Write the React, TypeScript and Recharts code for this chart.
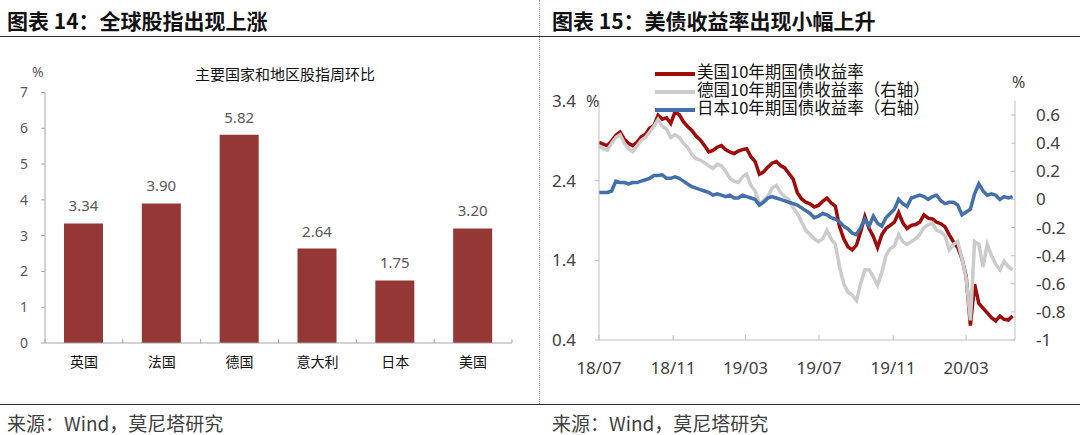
import React from 'react';
import { BarChart, Bar, XAxis, YAxis, LabelList, LineChart, Line } from 'recharts';

// ---------- Left chart data ----------
const countries = ['英国', '法国', '德国', '意大利', '日本', '美国'];
const weeklyChange = [3.34, 3.90, 5.82, 2.64, 1.75, 3.20];
const barTicks = [0, 1, 2, 3, 4, 5, 6, 7];

// ---------- Right chart data (weekly samples from 2018-07-01) ----------
const startDate = '2018-07-01';
const endDate = '2020-05-21';
const stepDays = 7;
const xTickDates = ['2018-07-01', '2018-11-01', '2019-03-01', '2019-07-01', '2019-11-01', '2020-03-01'];
const xTickLabels = ['18/07', '18/11', '19/03', '19/07', '19/11', '20/03'];
const leftTicks = [0.4, 1.4, 2.4, 3.4];
const rightTicks = [-1, -0.8, -0.6, -0.4, -0.2, 0, 0.2, 0.4, 0.6];

const usYield = [
  2.88, 2.86, 2.84, 2.90, 2.97, 3.01, 2.92, 2.87, 2.84, 2.88,
  2.95, 2.98, 3.06, 3.09, 3.22, 3.17, 3.19, 3.12, 3.26, 3.23,
  3.14, 3.08, 3.03, 2.96, 2.91, 2.84, 2.76, 2.78, 2.82, 2.84,
  2.79, 2.76, 2.74, 2.77, 2.79, 2.80, 2.70, 2.64, 2.48, 2.51,
  2.57, 2.62, 2.64, 2.59, 2.56, 2.49, 2.42, 2.25, 2.17, 2.13,
  2.11, 2.07, 2.09, 2.14, 2.18, 2.12, 2.08, 1.82, 1.67, 1.57,
  1.53, 1.59, 1.76, 1.95, 1.80, 1.70, 1.56, 1.72, 1.80, 1.84,
  1.88, 2.00, 1.87, 1.80, 1.84, 1.85, 1.88, 1.97, 1.93, 1.92,
  1.88, 1.86, 1.82, 1.72, 1.63, 1.56, 1.42, 1.20, 0.58, 1.10,
  0.86, 0.80, 0.74, 0.68, 0.64, 0.70, 0.66, 0.65, 0.70,
];
const deYield = [
  0.38, 0.36, 0.35, 0.40, 0.44, 0.46, 0.40, 0.36, 0.34, 0.38,
  0.42, 0.44, 0.48, 0.52, 0.57, 0.52, 0.50, 0.44, 0.46, 0.44,
  0.40, 0.37, 0.32, 0.29, 0.28, 0.26, 0.24, 0.22, 0.25, 0.24,
  0.20, 0.15, 0.13, 0.12, 0.16, 0.18, 0.10, 0.06, -0.03, -0.01,
  0.02, 0.08, 0.10, 0.05, 0.02, 0.00, -0.06, -0.10, -0.16, -0.22,
  -0.25, -0.28, -0.30, -0.28, -0.22, -0.28, -0.32, -0.48, -0.60, -0.66,
  -0.68, -0.72, -0.60, -0.50, -0.50, -0.55, -0.61, -0.52, -0.40, -0.35,
  -0.33, -0.25, -0.30, -0.32, -0.30, -0.28, -0.25, -0.20, -0.18, -0.17,
  -0.22, -0.23, -0.26, -0.36, -0.32, -0.30, -0.42, -0.56, -0.86, -0.30,
  -0.32, -0.48, -0.32, -0.40, -0.46, -0.50, -0.44, -0.48, -0.50,
];
const jpYield = [
  0.05, 0.05, 0.05, 0.06, 0.13, 0.12, 0.12, 0.11, 0.12, 0.12,
  0.13, 0.14, 0.15, 0.17, 0.17, 0.175, 0.15, 0.15, 0.16, 0.15,
  0.13, 0.11, 0.09, 0.08, 0.07, 0.06, 0.05, 0.03, 0.04, 0.03,
  0.02, 0.03, 0.01, 0.01, 0.03, 0.02, 0.01, 0.00, -0.04, -0.02,
  0.01, 0.02, 0.01, 0.00, -0.01, -0.02, -0.03, -0.04, -0.06, -0.08,
  -0.10, -0.13, -0.12, -0.10, -0.11, -0.13, -0.14, -0.16, -0.19, -0.21,
  -0.24, -0.25, -0.20, -0.14, -0.19, -0.12, -0.17, -0.19, -0.13, -0.10,
  -0.07, 0.00, -0.03, -0.05, 0.01, 0.02, 0.03, 0.02, 0.00, 0.02,
  0.03, -0.01, -0.03, -0.02, -0.02, -0.04, -0.11, -0.09, -0.07, 0.04,
  0.11, 0.06, 0.03, 0.04, 0.03, 0.00, 0.02, 0.01, 0.02,
];

const seriesNames = ['美国10年期国债收益率', '德国10年期国债收益率（右轴）', '日本10年期国债收益率（右轴）'];
const seriesColors = ['#A00A0A', '#CBCBCB', '#4370A8'];

const dayOf = (d: string) => Math.round((Date.parse(d) - Date.parse(startDate)) / 86400000);
const xTickDays = xTickDates.map(dayOf);
const endDay = dayOf(endDate);

const barData = countries.map((name, i) => ({ name, value: weeklyChange[i] }));
const lineData = usYield.map((v, i) => ({ t: i * stepDays, us: v, de: deYield[i], jp: jpYield[i] }));

const FONT = '"Noto Sans", "Noto Sans CJK SC", sans-serif';
const CJK = '"Noto Sans CJK SC", "Noto Sans", sans-serif';

const BAR_TICK_MARGIN = 14;
const BarTick = (props: any) => {
  const { x, y, payload } = props;
  const off = payload && typeof payload.offset === 'number' ? payload.offset : 0;
  const axisY = y - BAR_TICK_MARGIN;
  const isLast = payload.value === countries[countries.length - 1];
  return (
    <g>
      {off > 0 && <line x1={x - off} x2={x - off} y1={axisY} y2={axisY - 4} stroke="#A6A6A6" />}
      {off > 0 && isLast && <line x1={x + off} x2={x + off} y1={axisY} y2={axisY - 4} stroke="#A6A6A6" />}
      <text x={x} y={y} dy="0.71em" textAnchor="middle" fontSize={14} fill="#111" style={{ fontFamily: CJK }}>
        {payload.value}
      </text>
    </g>
  );
};

const abs = (s: React.CSSProperties): React.CSSProperties => ({ position: 'absolute', margin: 0, whiteSpace: 'nowrap', ...s });

export default function App() {
  return (
    <div style={abs({ left: 0, top: 0, width: 1080, height: 435, background: '#fff', overflow: 'hidden', fontFamily: FONT })}>
      {/* Titles */}
      <div style={abs({ left: 7, top: 8, fontSize: 21, lineHeight: '24px', fontWeight: 700, color: '#111', fontFamily: CJK })}>
        图表 14：全球股指出现上涨
      </div>
      <div style={abs({ left: 552, top: 8, fontSize: 21, lineHeight: '24px', fontWeight: 700, color: '#111', fontFamily: CJK })}>
        图表 15：美债收益率出现小幅上升
      </div>
      <div style={abs({ left: 0, top: 36, width: 1080, height: 1, background: '#333' })} />
      <div style={abs({ left: 0, top: 404, width: 1080, height: 1, background: '#333' })} />
      <div style={abs({ left: 539, top: 0, width: 0, height: 404, borderLeft: '1px dotted #9a9a9a' })} />
      <div style={abs({ left: 7, top: 411, fontSize: 19, lineHeight: '23px', color: '#404040', fontFamily: CJK })}>
        来源：Wind，莫尼塔研究
      </div>
      <div style={abs({ left: 552, top: 411, fontSize: 19, lineHeight: '23px', color: '#404040', fontFamily: CJK })}>
        来源：Wind，莫尼塔研究
      </div>

      {/* Left chart */}
      <div style={abs({ left: 32, top: 63, fontSize: 14, lineHeight: '18px', color: '#595959' })}>%</div>
      <div style={abs({ left: 185, top: 65, width: 200, textAlign: 'center', fontSize: 15, lineHeight: '18px', color: '#111', fontFamily: CJK })}>
        主要国家和地区股指周环比
      </div>
      <div style={abs({ left: 0, top: 0, width: 540, height: 400 })}>
        <BarChart width={540} height={400} data={barData} margin={{ top: 92.5, right: 28, bottom: 0, left: 0 }}>
          <XAxis
            dataKey="name"
            type="category"
            interval={0}
            height={57}
            tickSize={0}
            tickMargin={BAR_TICK_MARGIN}
            axisLine={{ stroke: '#A6A6A6' }}
            tick={<BarTick />}
          />
          <YAxis
            domain={[0, 7]}
            ticks={barTicks}
            interval={0}
            width={45}
            tickSize={4}
            tickMargin={13}
            axisLine={{ stroke: '#A6A6A6' }}
            tickLine={{ stroke: '#A6A6A6' }}
            tick={{ fill: '#595959', fontSize: 14 }}
          />
          <Bar dataKey="value" fill="#953735" barSize={39} isAnimationActive={false}>
            <LabelList
              dataKey="value"
              position="top"
              offset={12}
              formatter={(v: any) => Number(v).toFixed(2)}
              fill="#595959"
              fontSize={15}
            />
          </Bar>
        </BarChart>
      </div>

      {/* Right chart */}
      <div style={abs({ left: 540, top: 0, width: 540, height: 400 })}>
        <LineChart width={540} height={400} data={lineData} margin={{ top: 101, right: 0, bottom: 0, left: 0 }}>
          <XAxis
            dataKey="t"
            type="number"
            domain={[0, endDay]}
            ticks={xTickDays}
            interval={0}
            height={60}
            tickSize={-5}
            tickMargin={26.5}
            axisLine={{ stroke: '#BFBFBF' }}
            tickLine={{ stroke: '#BFBFBF' }}
            tick={{ fill: '#404040', fontSize: 17 }}
            tickFormatter={(v: number) => xTickLabels[xTickDays.indexOf(v)] ?? ''}
          />
          <YAxis
            yAxisId="l"
            orientation="left"
            domain={[0.4, 3.4]}
            ticks={leftTicks}
            interval={0}
            width={59}
            tickSize={4}
            tickMargin={19}
            axisLine={{ stroke: '#BFBFBF' }}
            tickLine={{ stroke: '#BFBFBF' }}
            tick={{ fill: '#404040', fontSize: 17 }}
            allowDataOverflow
          />
          <YAxis
            yAxisId="r"
            orientation="right"
            domain={[-1, 0.7]}
            ticks={rightTicks}
            interval={0}
            width={65}
            tickSize={-4}
            tickMargin={25}
            axisLine={{ stroke: '#BFBFBF' }}
            tickLine={{ stroke: '#BFBFBF' }}
            tick={{ fill: '#404040', fontSize: 17, textAnchor: 'start' }}
            tickFormatter={(v: number) => String(v)}
            allowDataOverflow
          />
          <Line yAxisId="l" dataKey="us" stroke={seriesColors[0]} strokeWidth={3.5} dot={false} type="linear" isAnimationActive={false} />
          <Line yAxisId="r" dataKey="de" stroke={seriesColors[1]} strokeWidth={3.5} dot={false} type="linear" isAnimationActive={false} />
          <Line yAxisId="r" dataKey="jp" stroke={seriesColors[2]} strokeWidth={3.5} dot={false} type="linear" isAnimationActive={false} />
        </LineChart>
      </div>
      <div style={abs({ left: 586, top: 92, fontSize: 16, lineHeight: '18px', color: '#404040' })}>%</div>
      <div style={abs({ left: 1012, top: 73, fontSize: 16, lineHeight: '18px', color: '#404040' })}>%</div>
      {seriesNames.map((name, i) => (
        <React.Fragment key={name}>
          <div style={abs({ left: 655, top: 71.5 + i * 18, width: 40, height: 4, background: seriesColors[i] })} />
          <div style={abs({ left: 697, top: 62 + i * 18, fontSize: 16.5, lineHeight: '18px', color: '#111', fontFamily: CJK })}>
            {name}
          </div>
        </React.Fragment>
      ))}
    </div>
  );
}
